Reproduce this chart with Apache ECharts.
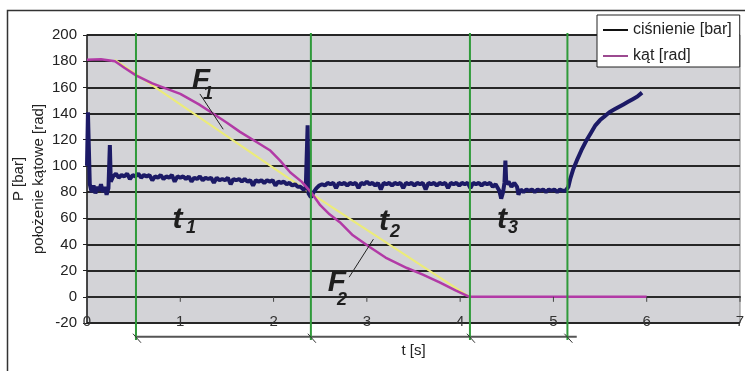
<!DOCTYPE html>
<html><head><meta charset="utf-8">
<script src="https://cdn.jsdelivr.net/npm/echarts@6/dist/echarts.min.js"></script>
<style>html,body{margin:0;padding:0;background:#fff}#c{width:745px;height:371px}</style>
</head><body><div id="c"></div><script>
// ---- data ----
const seriesNames = ['ciśnienie [bar]', 'kąt [rad]'];
const xAxisName = 't [s]';
const yAxisName = 'P [bar]\npołożenie kątowe [rad]';
const xMin = 0, xMax = 7, xInterval = 1;
const yMin = -20, yMax = 200, yInterval = 20;
const xTicks = [0, 1, 2, 3, 4, 5, 6, 7];

// pressure [t, bar]
const pressure = [
 [0.00,100],[0.01,141],[0.03,86],[0.05,80],[0.07,85],[0.09,79],[0.11,84],[0.13,81],[0.15,86],[0.17,80],
 [0.19,84],[0.21,78],[0.23,83],[0.245,116],[0.255,88],
 [0.28,92],[0.31,94],[0.34,91],[0.37,93],[0.40,92],[0.43,94],[0.46,90],[0.49,93],[0.52,92],[0.55,94],
 [0.58,91],[0.61,93],[0.64,92],[0.67,93],[0.70,89],[0.73,92],[0.76,91],[0.79,93],[0.82,90],[0.85,92],
 [0.88,91],[0.91,93],[0.94,88],[0.97,92],[1.00,91],[1.03,92],[1.06,90],[1.09,92],[1.12,88],[1.15,91],
 [1.18,90],[1.21,92],[1.24,89],[1.27,91],[1.30,90],[1.33,91],[1.36,87],[1.39,91],[1.42,89],[1.45,90],
 [1.48,89],[1.51,91],[1.54,86],[1.57,90],[1.60,89],[1.63,90],[1.66,88],[1.69,90],[1.72,88],[1.75,89],
 [1.78,85],[1.81,89],[1.84,88],[1.87,89],[1.90,87],[1.93,89],[1.96,88],[1.99,89],[2.02,85],[2.05,88],
 [2.08,87],[2.11,88],[2.14,86],[2.17,87],[2.20,85],[2.23,86],[2.26,84],[2.29,84],[2.32,82],[2.345,83],
 [2.36,84],[2.365,131],[2.375,79],[2.40,76],
 [2.43,80],[2.46,83],[2.49,85],[2.52,86],[2.55,85],[2.58,87],[2.61,86],[2.64,87],[2.67,83],[2.70,87],
 [2.73,86],[2.76,87],[2.79,85],[2.82,87],[2.85,86],[2.88,87],[2.91,83],[2.94,87],[2.97,86],[3.00,88],
 [3.03,86],[3.06,87],[3.09,85],[3.12,87],[3.15,82],[3.18,87],[3.21,86],[3.24,87],[3.27,85],[3.30,87],
 [3.33,86],[3.36,87],[3.39,83],[3.42,87],[3.45,86],[3.48,87],[3.51,85],[3.54,87],[3.57,86],[3.60,87],
 [3.63,82],[3.66,87],[3.69,86],[3.72,87],[3.75,85],[3.78,87],[3.81,86],[3.84,87],[3.87,83],[3.90,87],
 [3.93,86],[3.96,87],[3.99,85],[4.02,87],[4.05,86],[4.08,87],[4.11,83],[4.14,87],[4.17,86],[4.20,87],
 [4.23,85],[4.26,87],[4.29,86],[4.32,87],[4.35,84],[4.38,86],[4.40,85],
 [4.42,81],[4.44,75],[4.46,80],[4.475,87],[4.485,104],[4.495,86],[4.52,88],[4.55,84],[4.58,87],[4.61,84],
 [4.625,78],[4.65,82],[4.68,80],[4.71,82],[4.74,81],[4.77,82],[4.80,80],[4.83,82],[4.86,81],[4.89,82],
 [4.92,80],[4.95,82],[4.98,81],[5.01,82],[5.04,80],[5.07,82],[5.10,81],[5.13,81],
 [5.16,84],[5.18,90],[5.21,97],[5.25,104],[5.30,112],[5.35,119],[5.40,125],[5.45,131],[5.50,135],
 [5.55,138],[5.60,141],[5.65,143],[5.70,145],[5.75,147],[5.80,149],[5.85,151],[5.90,153],[5.95,156]
];
// angular position [t, rad]
const angle = [
 [0,181],[0.15,181.5],[0.3,180],[0.4,175],[0.53,169],[0.7,163],[0.85,159],[1.0,155],[1.2,147],
 [1.35,140],[1.5,133],[1.64,126],[1.8,119],[1.96,112],[2.07,104],[2.18,95],[2.3,88],[2.4,80],
 [2.5,70],[2.6,63],[2.71,57],[2.85,47],[3.03,38],[3.2,30],[3.43,22],[3.6,17],[3.78,11],
 [3.95,5],[4.1,0],[4.5,0],[5.0,0],[5.5,0],[6.0,0]
];
// linear approximations F1, F2
const approx = [[0.3,181],[2.4,79],[4.1,0]];
// phase boundaries (green lines)
const phaseTimes = [0.525, 2.4, 4.105, 5.15];
const bracketLevel = -30.5;
const bracket = [[0.514, bracketLevel],[5.25, bracketLevel]];
// annotations in data coordinates
const annotations = [
 {text:'F', sub:'1', at:[1.222,164.9], subAt:[1.297,154.9]},
 {text:'t', sub:'1', at:[0.970,58.7], subAt:[1.115,52.6]},
 {text:'t', sub:'2', at:[3.184,57.1], subAt:[3.302,49.5]},
 {text:'t', sub:'3', at:[4.448,58.7], subAt:[4.566,52.6]},
 {text:'F', sub:'2', at:[2.680,10.5], subAt:[2.733,-2.4]}
];
const leaders = [[[1.21,155],[1.46,128]],[[2.81,15],[3.07,44]]];

// ---- chart ----
const FF = 'Liberation Sans, Arial, sans-serif';
const chart = echarts.init(document.getElementById('c'));
chart.setOption({
  animation:false,
  backgroundColor:'#fff',
  textStyle:{fontFamily:FF},
  grid:{left:87, right:5, top:35, bottom:48, outerBoundsMode:'none', containLabel:false,
        show:true, backgroundColor:'#d3d3d7', borderColor:'#808080', borderWidth:1},
  legend:{
    orient:'vertical', left:597, top:15,
    data:[{name:seriesNames[0], itemStyle:{color:'#111'}}, {name:seriesNames[1], itemStyle:{color:'#9c4a90'}}],
    backgroundColor:'#fff', borderColor:'#222', borderWidth:1, borderRadius:0,
    padding:[6,8,2,6], itemWidth:25, itemHeight:2, itemGap:8, icon:'rect',
    textStyle:{fontSize:16, color:'#222', lineHeight:18, fontFamily:FF}
  },
  xAxis:{
    type:'value', min:xMin, max:xMax, interval:xInterval,
    name:xAxisName, nameLocation:'middle', nameGap:20, nameMoveOverlap:false,
    nameTextStyle:{fontSize:15, color:'#222', fontFamily:FF},
    axisLine:{onZero:true, lineStyle:{color:'#2a2a2a', width:2}},
    axisTick:{show:false},
    axisLabel:{margin:-9, fontSize:15, color:'#333', fontFamily:FF},
    splitLine:{show:false}
  },
  yAxis:{
    type:'value', min:yMin, max:yMax, interval:yInterval,
    name:yAxisName, nameLocation:'middle', nameGap:38, nameRotate:90, nameMoveOverlap:false,
    nameTextStyle:{fontSize:15, color:'#222', lineHeight:20, align:'center', fontFamily:FF},
    axisLine:{show:true, lineStyle:{color:'#222', width:1.5}},
    axisTick:{show:true, length:4, lineStyle:{color:'#222'}},
    axisLabel:{margin:10, fontSize:15, color:'#222', fontFamily:FF},
    splitLine:{show:true, lineStyle:{color:'#262626', width:2}}
  },
  series:[
    {type:'line', name:'approx', data:approx, showSymbol:false, symbol:'none',
     lineStyle:{color:'#ecec78', width:2}, z:2, silent:true},
    {type:'line', name:seriesNames[0], data:pressure, showSymbol:false, symbol:'none',
     color:'#1c1a66', lineStyle:{color:'#1c1a66', width:4}, z:3},
    {type:'line', name:seriesNames[1], data:angle, showSymbol:false, symbol:'none',
     color:'#b23aa6', lineStyle:{color:'#b23aa6', width:2.5}, z:4},
    {type:'line', name:'bracket', data:bracket, showSymbol:false, symbol:'none', clip:false,
     lineStyle:{color:'#555', width:2}, z:5, silent:true},
    {type:'custom', name:'ticks', data:xTicks.map(t=>[t, 0]), encode:{x:0, y:1}, clip:false, z:5, silent:true,
     renderItem:function(params, api){
       const p = api.coord([api.value(0), 0]);
       return {type:'line', shape:{x1:p[0], y1:p[1], x2:p[0], y2:p[1]+5}, style:{stroke:'#444', lineWidth:1}};
     }},
    {type:'custom', name:'phases', data:phaseTimes.map(t=>[t, 0]), encode:{x:0, y:1}, clip:false, z:6, silent:true,
     renderItem:function(params, api){
       const t = api.value(0);
       const top = api.coord([t, 201.5]);
       const bot = api.coord([t, -33]);
       const mid = api.coord([t, bracketLevel]);
       return {type:'group', children:[
         {type:'line', shape:{x1:top[0], y1:top[1], x2:bot[0], y2:bot[1]}, style:{stroke:'#2f9a3a', lineWidth:2}},
         {type:'line', shape:{x1:mid[0]-3, y1:mid[1]-3, x2:mid[0]+5, y2:mid[1]+6}, style:{stroke:'#333', lineWidth:1}}
       ]};
     }}
  ]
});

const g = [];
g.push({type:'rect', shape:{x:7.5, y:10.5, width:780, height:400}, style:{fill:'none', stroke:'#333', lineWidth:1.5}, z:-1, silent:true});
annotations.forEach(a=>{
  const p = chart.convertToPixel({gridIndex:0}, a.at);
  const s = chart.convertToPixel({gridIndex:0}, a.subAt);
  g.push({type:'text', x:p[0], y:p[1], z:50, style:{text:a.text, font:'italic bold 30px ' + FF, fill:'#1e1e1e', align:'center', verticalAlign:'middle'}});
  g.push({type:'text', x:s[0], y:s[1], z:50, style:{text:a.sub, font:'italic bold 18px ' + FF, fill:'#1e1e1e', align:'center', verticalAlign:'middle'}});
});
leaders.forEach(l=>{
  const a = chart.convertToPixel({gridIndex:0}, l[0]);
  const b = chart.convertToPixel({gridIndex:0}, l[1]);
  g.push({type:'line', shape:{x1:a[0], y1:a[1], x2:b[0], y2:b[1]}, style:{stroke:'#222', lineWidth:1}, z:50});
});
chart.setOption({graphic:g});
</script></body></html>
